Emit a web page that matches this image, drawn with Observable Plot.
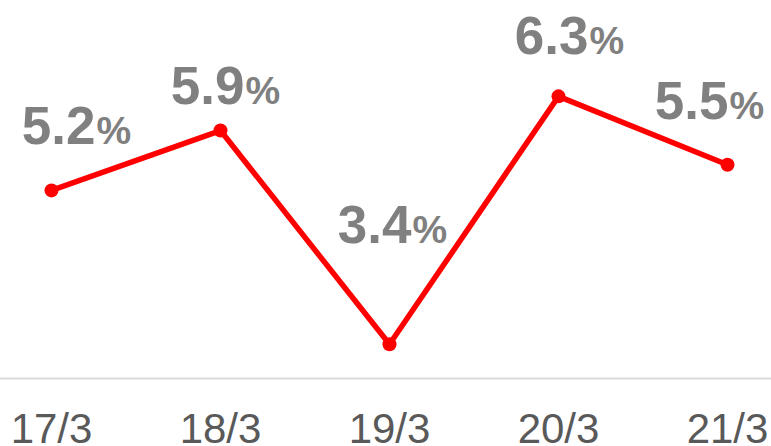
<!DOCTYPE html>
<html><head><meta charset="utf-8">
<script src="https://cdn.jsdelivr.net/npm/d3@7"></script>
<script src="https://cdn.jsdelivr.net/npm/@observablehq/plot@0.6"></script>
<style>html,body{margin:0;padding:0;background:#fff}</style>
</head><body><div id="chart"></div>
<script>
const dates = ["17/3", "18/3", "19/3", "20/3", "21/3"];
const values = [5.2, 5.9, 3.4, 6.3, 5.5];
const data = dates.map((d, i) => ({date: d, value: values[i]}));

// manual label placement relative to each point, in pixels [dx, dy]
const nudge = {"17/3": [44, -46], "18/3": [24, -27], "19/3": [22, -101], "20/3": [30, -42], "21/3": [1, -46]};

const labelMarks = data.flatMap(row => [
  Plot.text([row], {
    x: "date", y: "value", text: r => r.value.toFixed(1),
    dx: nudge[row.date][0], dy: nudge[row.date][1],
    textAnchor: "end", lineAnchor: "bottom",
    fontSize: 53, fontWeight: "bold", fill: "#808080"
  }),
  Plot.text([row], {
    x: "date", y: "value", text: () => "%",
    dx: nudge[row.date][0] + 1, dy: nudge[row.date][1],
    textAnchor: "start", lineAnchor: "bottom",
    fontSize: 39, fontWeight: "bold", fill: "#808080"
  })
]);

const chart = Plot.plot({
  width: 771, height: 446,
  marginLeft: 50, marginRight: 43, marginTop: 36, marginBottom: 68,
  style: {fontFamily: "'Liberation Sans', Arial, sans-serif", background: "#fff", overflow: "visible"},
  x: {type: "point", domain: dates, padding: 0},
  y: {domain: [3, 7], axis: null},
  marks: [
    Plot.ruleY([3], {stroke: "#d9d9d9", strokeWidth: 2, insetLeft: -50, insetRight: -43}),
    Plot.line(data, {x: "date", y: "value", stroke: "#ff0000", strokeWidth: 5.5}),
    Plot.dot(data, {x: "date", y: "value", r: 7, fill: "#ff0000"}),
    ...labelMarks,
    Plot.axisX({tickSize: 0, tickPadding: 35, fontSize: 42, color: "#595959", label: null})
  ]
});
document.getElementById("chart").append(chart);
</script>
</body></html>
